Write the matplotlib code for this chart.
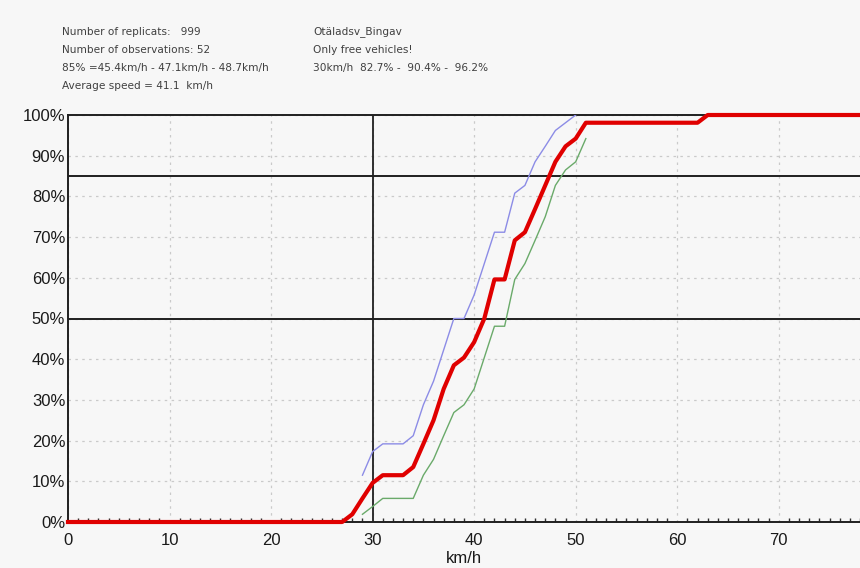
import matplotlib.pyplot as plt
from matplotlib.ticker import MultipleLocator, FuncFormatter

# speed in km/h and cumulative share of vehicles in %
speed_mid = list(range(0, 79))
share_mid = ([0.0] * 28 +
             [1.9, 5.8, 9.6, 11.5, 11.5, 11.5, 13.5, 19.2, 25.0, 32.7, 38.5, 40.4,
              44.2, 50.0, 59.6, 59.6, 69.2, 71.2, 76.9, 82.7, 88.5, 92.3, 94.2, 98.1] +
             [98.1] * 11 + [100.0] * 16)

speed_band = list(range(29, 52))
share_upper = [11.5, 17.3, 19.2, 19.2, 19.2, 21.2, 28.8, 34.6, 42.3, 50.0, 50.0, 55.8,
               63.5, 71.2, 71.2, 80.8, 82.7, 88.5, 92.3, 96.2, 98.1, 100.0]
share_lower = [1.9, 3.8, 5.8, 5.8, 5.8, 5.8, 11.5, 15.4, 21.2, 26.9, 28.8, 32.7,
               40.4, 48.1, 48.1, 59.6, 63.5, 69.2, 75.0, 82.7, 86.5, 88.5, 94.2]

header_left = ["Number of replicats:   999",
               "Number of observations: 52",
               "85% =45.4km/h - 47.1km/h - 48.7km/h",
               "Average speed = 41.1  km/h"]
header_right = ["Otäladsv_Bingav",
                "Only free vehicles!",
                "30km/h  82.7% -  90.4% -  96.2%"]

bg = '#f7f7f7'
fig = plt.figure(figsize=(8.6, 5.68), dpi=100, facecolor=bg)
ax = fig.add_axes([68 / 860, 1 - 522 / 568, 1 - 68 / 860, (522 - 115) / 568])
ax.set_facecolor(bg)

ax.grid(True, color='#cacaca', linestyle=(0, (2, 3.5)), linewidth=0.9)
ax.axhline(50, color='#202020', lw=1.4, zorder=3)
ax.axhline(85, color='#202020', lw=1.4, zorder=3)
ax.axvline(30, color='#202020', lw=1.3, zorder=3)

ax.plot(speed_band[:len(share_upper)], share_upper, color='#8c8ce6', lw=1.0, zorder=4)
ax.plot(speed_band, share_lower, color='#6aaa6a', lw=1.0, zorder=4)
ax.plot(speed_mid, share_mid, color='#e00000', lw=3.0, zorder=5, clip_on=False,
        solid_joinstyle='round')

ax.set_xlim(0, 78)
ax.set_ylim(0, 100)
ax.xaxis.set_major_locator(MultipleLocator(10))
ax.xaxis.set_minor_locator(MultipleLocator(1))
ax.yaxis.set_major_locator(MultipleLocator(10))
ax.yaxis.set_major_formatter(FuncFormatter(lambda v, p: f"{v:.0f}%"))

for side in ['left', 'top', 'bottom']:
    ax.spines[side].set_color('#202020')
    ax.spines[side].set_linewidth(1.4)
ax.spines['right'].set_visible(False)

ax.tick_params(axis='both', which='major', length=0, labelsize=12,
               labelcolor='#1a1a1a')
ax.tick_params(axis='y', pad=2)
ax.tick_params(axis='x', pad=8)
ax.tick_params(axis='x', which='minor', direction='in', length=3, width=1,
               color='#303030')
for lbl in ax.get_xticklabels() + ax.get_yticklabels():
    lbl.set_family('Liberation Sans')
ax.set_xlabel('km/h', fontsize=12, family='Liberation Sans', color='#1a1a1a',
              labelpad=2)

for i, line in enumerate(header_left):
    fig.text(62 / 860, 1 - (32 + 18 * i) / 568, line, fontsize=7.6,
             color='#404040', va='center')
for i, line in enumerate(header_right):
    fig.text(313 / 860, 1 - (32 + 18 * i) / 568, line, fontsize=7.6,
             color='#404040', va='center')

fig.savefig('out.png', dpi=100, facecolor=bg)
